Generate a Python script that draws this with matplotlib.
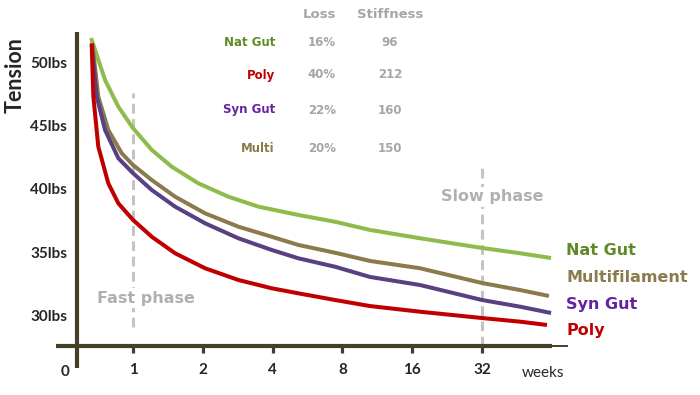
"""String tension loss over time — four string families on a log2 week axis."""
import matplotlib

matplotlib.use("Agg")
import matplotlib.pyplot as plt
import numpy as np

plt.rcParams.update(
    {
        "figure.facecolor": "white",
        "axes.facecolor": "white",
        "savefig.facecolor": "white",
        "font.family": ["Lato", "DejaVu Sans"],
        "figure.dpi": 100,
    }
)

W, H = 700, 395
AXIS = "#453f27"
GRAY = "#a6a6a6"
PHASE = "#b0b0b0"
WIDE = ["DejaVu Sans"]  # stands in for the geometric face of the labels

# tension (lbs) vs weeks
NAT_GUT_WEEKS = [0.659, 0.757, 0.864, 1.0, 1.204, 1.468, 1.913, 2.576, 3.47,
                 5.163, 7.434, 10.52, 17.29, 32, 46.7, 63.5]
NAT_GUT_LBS = [51.98, 48.65, 46.53, 44.82, 43.10, 41.77, 40.45, 39.39, 38.60,
               37.94, 37.40, 36.75, 36.09, 35.32, 34.90, 34.52]

MULTI_WEEKS = [0.667, 0.708, 0.782, 0.894, 1.0, 1.204, 1.518, 2.044, 2.845,
               3.964, 5.163, 7.434, 10.52, 17.29, 32, 46.7, 62.2]
MULTI_LBS = [51.56, 47.33, 44.68, 42.83, 41.90, 40.71, 39.39, 38.07, 37.01,
             36.21, 35.56, 34.94, 34.29, 33.71, 32.54, 31.98, 31.51]

SYN_GUT_WEEKS = [0.663, 0.697, 0.757, 0.864, 1.0, 1.204, 1.518, 2.044, 2.845,
                 3.964, 5.163, 7.434, 10.52, 17.29, 32, 46.7, 63.5]
SYN_GUT_LBS = [51.43, 47.33, 44.68, 42.44, 41.25, 39.92, 38.60, 37.28, 36.09,
               35.16, 34.50, 33.83, 33.02, 32.38, 31.19, 30.66, 30.16]

POLY_WEEKS = [0.663, 0.674, 0.708, 0.782, 0.864, 1.0, 1.204, 1.518, 2.044,
              2.845, 3.964, 5.163, 7.434, 10.52, 17.29, 32, 46.7, 61.0]
POLY_LBS = [51.56, 47.33, 43.36, 40.45, 38.86, 37.54, 36.21, 34.90, 33.71,
            32.78, 32.12, 31.72, 31.19, 30.71, 30.26, 29.76, 29.47, 29.21]

# little table in the top of the chart
TABLE_NAMES = ["Nat Gut", "Poly", "Syn Gut", "Multi"]
TABLE_LOSS = ["16%", "40%", "22%", "20%"]
TABLE_STIFFNESS = [96, 212, 160, 150]

X_TICKS = [1, 2, 4, 8, 16, 32]
Y_TICKS = [30, 35, 40, 45, 50]

# (label, line colour, text colour, weeks, lbs)
SERIES = [
    ("Nat Gut", "#8fbb4c", "#5f8a26", NAT_GUT_WEEKS, NAT_GUT_LBS),
    ("Multifilament", "#8b7b4c", "#8b7b4c", MULTI_WEEKS, MULTI_LBS),
    ("Syn Gut", "#584082", "#6422a0", SYN_GUT_WEEKS, SYN_GUT_LBS),
    ("Poly", "#c00000", "#c00000", POLY_WEEKS, POLY_LBS),
]
TABLE_COLORS = {"Nat Gut": "#5f8a26", "Poly": "#c00000",
                "Syn Gut": "#6422a0", "Multi": "#8b7b4c"}


def fx(px: float) -> float:
    return px / W


def fy(py: float) -> float:
    return 1 - py / H


def main() -> None:
    fig = plt.figure(figsize=(W / 100, H / 100))
    ax = fig.add_axes([fx(77), fy(346), fx(567) - fx(77), fy(32) - fy(346)])
    ax.set_xscale("log", base=2)
    ax.set_xlim(0.573, 74.4)
    ax.set_ylim(27.54, 52.46)
    for s in ax.spines.values():
        s.set_visible(False)

    # phase markers
    ax.plot([1, 1], [29.05, 47.6], color="#c4c4c4", lw=2.2,
            ls=(0, (3.2, 1.8)), zorder=1)
    ax.plot([32, 32], [27.54, 42.1], color="#c4c4c4", lw=2.2,
            ls=(0, (3.2, 1.8)), zorder=1)

    for label, lc, tc, wk, lbs in SERIES:
        ax.plot(wk, lbs, color=lc, lw=2.9, solid_capstyle="butt",
                solid_joinstyle="round", zorder=3)

    # axes drawn by hand so they cross past the origin
    tr = ax.transAxes
    ax.plot([-0.043, 0.969], [0, 0], color=AXIS, lw=3, transform=tr,
            clip_on=False, solid_capstyle="butt", zorder=4)
    ax.plot([0.969, 1.0], [0, 0], color=AXIS, lw=1.4, transform=tr,
            clip_on=False, zorder=4)
    ax.plot([0, 0], [-0.07, 1.0], color=AXIS, lw=3, transform=tr,
            clip_on=False, solid_capstyle="butt", zorder=4)

    ax.set_xticks(X_TICKS)
    ax.set_xticklabels([str(t) for t in X_TICKS])
    ax.xaxis.set_minor_locator(matplotlib.ticker.NullLocator())
    ax.tick_params(axis="x", direction="out", length=5, width=2.3, color=AXIS,
                   pad=7, labelsize=11, labelcolor="#262626")
    ax.set_yticks(Y_TICKS)
    ax.set_yticklabels([f"{t}lbs" for t in Y_TICKS])
    ax.tick_params(axis="y", length=0, pad=7, labelsize=11, labelcolor="#262626")
    for t in ax.get_xticklabels() + ax.get_yticklabels():
        t.set_fontweight("bold")

    fig.text(fx(15), fy(75), "Tension", rotation=90, ha="center", va="center",
             fontsize=15.5, fontweight="bold", color="#262626")
    fig.text(fx(65), fy(372), "0", ha="center", va="center", fontsize=11,
             fontweight="bold", color="#262626")
    fig.text(fx(543), fy(373), "weeks", ha="center", va="center", fontsize=11,
             color="#262626")

    box = dict(facecolor="white", edgecolor="none", pad=1.5)
    fig.text(fx(146), fy(298), "Fast phase", ha="center", va="center",
             fontsize=11.5, fontweight="bold", color=PHASE, bbox=box,
             family=WIDE)
    fig.text(fx(492), fy(197), "Slow phase", ha="center", va="center",
             fontsize=11.5, fontweight="bold", color=PHASE, bbox=box,
             family=WIDE)

    # end-of-line labels
    for (label, lc, tc, wk, lbs), py in zip(SERIES, [250, 277, 305, 330]):
        fig.text(fx(566), fy(py), label, ha="left", va="center",
                 fontsize=11.5, fontweight="bold", color=tc, family=WIDE)

    # table
    fig.text(fx(319), fy(14), "Loss", ha="center", va="center", fontsize=9.5,
             fontweight="bold", color=GRAY, family=WIDE)
    fig.text(fx(390), fy(15), "Stiffness", ha="center", va="center",
             fontsize=9.5, fontweight="bold", color=GRAY, family=WIDE)
    for name, loss, stiff, py in zip(TABLE_NAMES, TABLE_LOSS, TABLE_STIFFNESS,
                                     [43, 75, 110, 148]):
        fig.text(fx(275), fy(py), name, ha="right", va="center", fontsize=8.5,
                 fontweight="bold", color=TABLE_COLORS[name], family=WIDE)
        fig.text(fx(322), fy(py), loss, ha="center", va="center", fontsize=8.5,
                 fontweight="bold", color=GRAY, family=WIDE)
        fig.text(fx(390), fy(py), str(stiff), ha="center", va="center",
                 fontsize=8.5, fontweight="bold", color=GRAY, family=WIDE)

    fig.savefig("out.png", dpi=100)
    plt.close(fig)


if __name__ == "__main__":
    main()
